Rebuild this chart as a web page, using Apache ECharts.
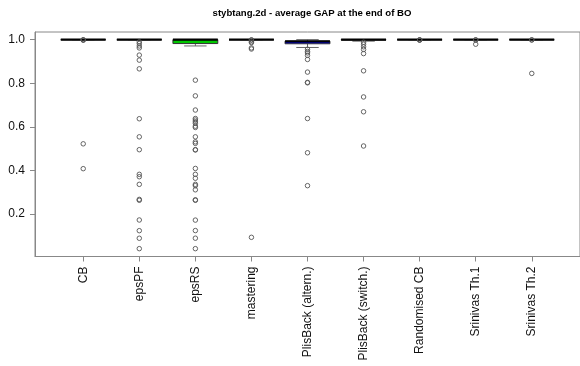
<!DOCTYPE html>
<html>
<head>
<meta charset="utf-8">
<script src="https://cdn.jsdelivr.net/npm/echarts@6/dist/echarts.min.js"></script>
<style>
  html, body { margin: 0; padding: 0; background: #fff; }
  #chart { width: 580px; height: 366px; }
</style>
</head>
<body>
<div id="chart"></div>
<script>
// Methods compared on the stybtang.2d problem
const categories = ['CB', 'epsPF', 'epsRS', 'mastering', 'PlisBack (altern.)',
  'PlisBack (switch.)', 'Randomised CB', 'Srinivas Th.1', 'Srinivas Th.2'];

// Box statistics per method: [lower whisker, Q1, median, Q3, upper whisker]
const boxStats = [
  [1.0, 1.0, 1.0, 1.0, 1.0],
  [1.0, 1.0, 1.0, 1.0, 1.0],
  [0.971, 0.982, 1.0, 1.0, 1.0],
  [1.0, 1.0, 1.0, 1.0, 1.0],
  [0.964, 0.981, 0.992, 0.993, 1.0],
  [0.993, 0.998, 1.0, 1.0, 1.0],
  [1.0, 1.0, 1.0, 1.0, 1.0],
  [1.0, 1.0, 1.0, 1.0, 1.0],
  [1.0, 1.0, 1.0, 1.0, 1.0]
];

// Box fill colours (null = unfilled)
const boxFills = [null, null, '#00c800', null, '#0000e6', null, null, null, null];

// Outlying runs per method
const outliers = [
  [0.999, 0.9985, 0.998, 0.522, 0.408],
  [0.990, 0.982, 0.971, 0.962, 0.929, 0.906, 0.866, 0.637, 0.554, 0.495, 0.382, 0.371,
   0.336, 0.267, 0.263, 0.1725, 0.1235, 0.0887, 0.041],
  [0.814, 0.742, 0.677, 0.638, 0.631, 0.623, 0.616, 0.603, 0.597, 0.554, 0.531, 0.524,
   0.495, 0.494, 0.409, 0.382, 0.364, 0.336, 0.330, 0.311, 0.265, 0.263, 0.172,
   0.124, 0.089, 0.041],
  [0.999, 0.998, 0.990, 0.986, 0.962, 0.957, 0.093],
  [0.956, 0.946, 0.939, 0.928, 0.909, 0.851, 0.804, 0.802, 0.638, 0.481, 0.330],
  [0.988, 0.979, 0.967, 0.955, 0.936, 0.857, 0.737, 0.669, 0.512],
  [0.999, 0.9985, 0.998],
  [0.999, 0.9985, 0.979],
  [0.999, 0.9985, 0.845]
];

const yTicks = [0.2, 0.4, 0.6, 0.8, 1.0];
const xTicks = [1, 2, 3, 4, 5, 6, 7, 8, 9];

const boxData = boxStats.map((s, i) => [i + 1].concat(s));
const outlierData = [];
outliers.forEach((list, i) => list.forEach(v => outlierData.push([i + 1, v])));

const BOX_WIDTH = 0.8;
const lineGray = '#666';

function renderBox(params, api) {
  const x = api.value(0);
  const lo = api.value(1), q1 = api.value(2), med = api.value(3), q3 = api.value(4), hi = api.value(5);
  const half = api.size([BOX_WIDTH, 0])[0] / 2;
  const staple = half / 2;
  const c = api.coord([x, med]);
  const pLo = api.coord([x, lo]), pQ1 = api.coord([x, q1]), pQ3 = api.coord([x, q3]), pHi = api.coord([x, hi]);
  const fill = boxFills[params.dataIndex];
  const children = [];
  // whiskers and staples
  children.push({ type: 'line', shape: { x1: pLo[0], y1: pLo[1], x2: pQ1[0], y2: pQ1[1] },
    style: { stroke: lineGray, lineWidth: 1 } });
  children.push({ type: 'line', shape: { x1: pQ3[0], y1: pQ3[1], x2: pHi[0], y2: pHi[1] },
    style: { stroke: lineGray, lineWidth: 1 } });
  children.push({ type: 'line', shape: { x1: pLo[0] - staple, y1: pLo[1], x2: pLo[0] + staple, y2: pLo[1] },
    style: { stroke: lineGray, lineWidth: 1 } });
  children.push({ type: 'line', shape: { x1: pHi[0] - staple, y1: pHi[1], x2: pHi[0] + staple, y2: pHi[1] },
    style: { stroke: lineGray, lineWidth: 1 } });
  // box
  children.push({ type: 'rect',
    shape: { x: c[0] - half, y: pQ3[1], width: half * 2, height: Math.max(pQ1[1] - pQ3[1], 0) },
    style: { fill: fill || 'none', stroke: '#333', lineWidth: 1 } });
  // median
  children.push({ type: 'line', shape: { x1: c[0] - half, y1: c[1], x2: c[0] + half, y2: c[1] },
    style: { stroke: '#000', lineWidth: 2.2 } });
  return { type: 'group', children };
}

const chart = echarts.init(document.getElementById('chart'), null, { renderer: 'canvas' });
chart.setOption({
  animation: false,
  backgroundColor: '#fff',
  textStyle: { fontFamily: 'Liberation Sans, Arial, sans-serif' },
  graphic: [{
    type: 'text', x: 312, y: 13,
    style: { text: 'stybtang.2d - average GAP at the end of BO', align: 'center', verticalAlign: 'middle',
      font: 'bold 9.6px "Liberation Sans", Arial, sans-serif', fill: '#000' }
  }],
  grid: { left: 35, right: -9, top: 32, bottom: 109.5, show: true, borderColor: '#888', borderWidth: 1 },
  xAxis: {
    type: 'value', min: 0.14, max: 9.86,
    splitLine: { show: false },
    axisLine: { show: true, lineStyle: { color: '#888' } },
    axisTick: { show: true, length: 5, customValues: xTicks, lineStyle: { color: '#888' } },
    axisLabel: { customValues: xTicks, rotate: 90, margin: 10, fontSize: 12, color: '#111',
      fontFamily: 'Liberation Sans, Arial, sans-serif',
      formatter: v => categories[Math.round(v) - 1] || '' }
  },
  yAxis: {
    type: 'value', min: 0.005, max: 1.035,
    splitLine: { show: false },
    axisLine: { show: true, lineStyle: { color: '#888' } },
    axisTick: { show: true, length: 5, customValues: yTicks, lineStyle: { color: '#888' } },
    axisLabel: { customValues: yTicks, margin: 10, fontSize: 12, color: '#111',
      fontFamily: 'Liberation Sans, Arial, sans-serif',
      formatter: v => v.toFixed(1) }
  },
  series: [
    {
      type: 'custom', renderItem: renderBox, data: boxData, clip: true,
      encode: { x: 0, y: [1, 2, 3, 4, 5] }, z: 2
    },
    {
      type: 'scatter', data: outlierData, symbol: 'circle', symbolSize: 4.5,
      itemStyle: { color: 'rgba(255,255,255,0)', borderColor: '#555', borderWidth: 0.9, opacity: 1 }, z: 3
    }
  ]
});
</script>
</body>
</html>
